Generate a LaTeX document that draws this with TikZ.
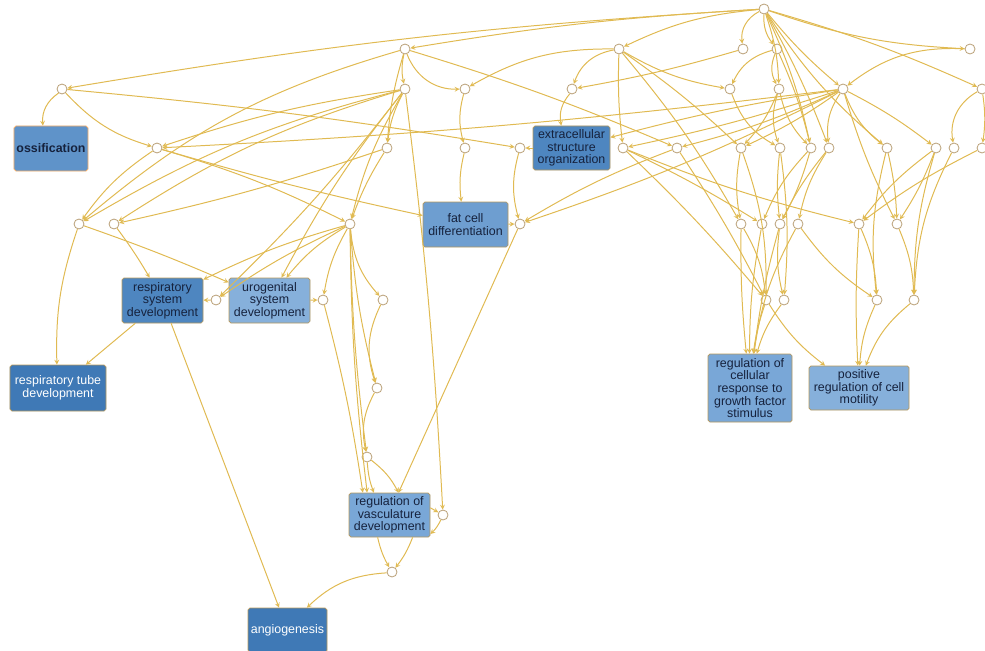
\documentclass[tikz,border=0pt]{standalone}
\usepackage{fontspec}
\setmainfont{Liberation Sans}
\usetikzlibrary{positioning}
\definecolor{GOEdge}{HTML}{E0BA52}
\definecolor{GORing}{HTML}{BBA27A}
\definecolor{GOFrame}{HTML}{B5985C}
\definecolor{GOInk}{HTML}{16223D}
\definecolor{GODeep}{HTML}{3F79B6}
\definecolor{GOMid}{HTML}{4E86C0}
\definecolor{GOOss}{HTML}{5F93C9}
\definecolor{GOSoft}{HTML}{6E9ED0}
\definecolor{GOLight}{HTML}{79A7D7}
\definecolor{GOPale}{HTML}{86B0DB}
\begin{document}
\begin{tikzpicture}[>=stealth,x=0.3mm,y=-0.3mm]
  \tikzstyle{hub}=[circle,draw=GORing,fill=white,line width=0.7pt,inner sep=0pt,minimum size=3mm]
  \tikzstyle{term}=[draw=GOFrame,line width=0.6pt,rounded corners=1.5pt,align=center,
    inner sep=1pt,text=GOInk,font=\fontsize{10.6}{10.8}\selectfont]
  \tikzstyle{link}=[->,draw=GOEdge,line width=0.85pt]
  \useasboundingbox (0,0) rectangle (985,651);
  % term boxes
  \node[term,fill=GOOss,draw=orange!60,minimum width=2.22cm,minimum height=1.35cm,font=\fontsize{10.6}{10.8}\selectfont\bfseries] (oss) at (51,148.5) {ossification};
  \node[term,fill=GOMid,minimum width=2.43cm,minimum height=1.35cm] (rsd) at (162.5,300.5) {respiratory\\system\\development};
  \node[term,fill=GOPale,minimum width=2.43cm,minimum height=1.35cm] (usd) at (269.5,300.5) {urogenital\\system\\development};
  \node[term,fill=GODeep,text=white,minimum width=2.88cm,minimum height=1.38cm] (rtd) at (58,388) {respiratory tube\\development};
  \node[term,fill=GOSoft,minimum width=2.55cm,minimum height=1.35cm] (fcd) at (465.5,224.5) {fat cell\\differentiation};
  \node[term,fill=GOMid,minimum width=2.31cm,minimum height=1.32cm] (eso) at (571.5,148) {extracellular\\structure\\organization};
  \node[term,fill=GOLight,minimum width=2.43cm,minimum height=1.32cm] (rvd) at (389.5,515) {regulation of\\vasculature\\development};
  \node[term,fill=GODeep,text=white,minimum width=2.37cm,minimum height=1.32cm] (ang) at (287.5,630) {angiogenesis};
  \node[term,fill=GOLight,minimum width=2.52cm,minimum height=2.04cm] (rcr) at (750,388) {regulation of\\cellular\\response to\\growth factor\\stimulus};
  \node[term,fill=GOPale,minimum width=3.0cm,minimum height=1.32cm] (prm) at (859,388) {positive\\regulation of cell\\motility};
  % hub circles
  \node[hub] (r0) at (764,9) {};
  \node[hub] (b1) at (405,49) {};
  \node[hub] (b2) at (619,49) {};
  \node[hub] (b3) at (743,49) {};
  \node[hub] (b4) at (777,49) {};
  \node[hub] (b5) at (970,49) {};
  \node[hub] (c1) at (62,89) {};
  \node[hub] (c2) at (405,89) {};
  \node[hub] (c3) at (465,89) {};
  \node[hub] (c4) at (572,89) {};
  \node[hub] (c5) at (730,89) {};
  \node[hub] (c6) at (779,89) {};
  \node[hub] (c7) at (843,89) {};
  \node[hub] (c8) at (982,89) {};
  \node[hub] (d1) at (157,148) {};
  \node[hub] (d2) at (387,148) {};
  \node[hub] (d3) at (465,148) {};
  \node[hub] (d4) at (520,148) {};
  \node[hub] (d5) at (623,148) {};
  \node[hub] (d6) at (677,148) {};
  \node[hub] (d7) at (741,148) {};
  \node[hub] (d8) at (780,148) {};
  \node[hub] (d9) at (811,148) {};
  \node[hub] (d10) at (829,148) {};
  \node[hub] (d11) at (887,148) {};
  \node[hub] (d12) at (936,148) {};
  \node[hub] (d13) at (954,148) {};
  \node[hub] (d14) at (982,148) {};
  \node[hub] (e1) at (79,224) {};
  \node[hub] (e2) at (114,224) {};
  \node[hub] (e3) at (350,224) {};
  \node[hub] (e4) at (520,224) {};
  \node[hub] (e5) at (741,224) {};
  \node[hub] (e6) at (762,224) {};
  \node[hub] (e7) at (780,224) {};
  \node[hub] (e8) at (798,224) {};
  \node[hub] (e9) at (859,224) {};
  \node[hub] (e10) at (897,224) {};
  \node[hub] (f1) at (216,300) {};
  \node[hub] (f2) at (323,300) {};
  \node[hub] (f3) at (383,300) {};
  \node[hub] (f4) at (766,300) {};
  \node[hub] (f5) at (784,300) {};
  \node[hub] (f6) at (877,300) {};
  \node[hub] (f7) at (914,300) {};
  \node[hub] (g1) at (377,388) {};
  \node[hub] (g2) at (367,457) {};
  \node[hub] (g3) at (443,515) {};
  \node[hub] (g4) at (392,572) {};
  % from the root
  \draw[link] (r0) to[bend right=3] (c1);
  \draw[link] (r0) to[bend right=3] (b1);
  \draw[link] (r0) to[bend right=10] (b2);
  \draw[link] (r0) to[bend right=35] (b3);
  \draw[link] (r0) to[bend right=20] (b4);
  \draw[link] (r0) to[bend left=8] (c6);
  \draw[link] (r0) to[bend right=5] (c7);
  \draw[link] (r0) to[bend left=6] (d9);
  \draw[link] (r0) to[bend left=4] (d10);
  \draw[link] (r0) to[bend right=8] (d11);
  \draw[link] (r0) to[bend right=8] (b5);
  \draw[link] (r0) to[bend left=4] (c8);
  % upper rows
  \draw[link] (b1) to[bend right=12] (c2);
  \draw[link] (b1) to[bend right=35] (c3);
  \draw[link] (b1) to[bend right=6] (d2);
  \draw[link] (b1) to[bend right=12] (e1);
  \draw[link] (b1) to[bend left=3] (d6);
  \draw[link] (b2) to[bend right=30] (c4);
  \draw[link] (b2) to[bend right=15] (c3);
  \draw[link] (b2) to[bend right=4] (d5);
  \draw[link] (b2) to[bend left=4] (d7);
  \draw[link] (b2) to[bend right=10] (c5);
  \draw[link] (b2) to[bend left=5] (e5);
  \draw[link] (b3) to[bend left=3] (c4);
  \draw[link] (b4) to[bend right=25] (c5);
  \draw[link] (b4) to[bend right=25] (c6);
  \draw[link] (b4) to[bend left=5] (d9);
  \draw[link] (b5) to[bend right=20] (c7);
  % left part
  \draw[link] (c1) to[bend right=30] (oss);
  \draw[link] (c1) to[bend right=15] (d1);
  \draw[link] (c1) to[bend left=2] (d4);
  \draw[link] (c2) to[bend right=5] (d1);
  \draw[link] (c2) to[bend right=8] (e1);
  \draw[link] (c2) to[bend right=8] (e2);
  \draw[link] (c2) to[bend left=4] (f1);
  \draw[link] (c2) to[bend right=5] (usd);
  \draw[link] (c2) to[bend right=8] (e3);
  \draw[link] (c2) to[bend right=10] (d2);
  \draw[link] (c2) to[bend left=2] (g3);
  \draw[link] (c3) to[bend right=15] (d3);
  \draw[link] (d3) to[bend right=10] (fcd);
  \draw[link] (d1) to[bend right=10] (e1);
  \draw[link] (d1) to[bend right=2] (fcd);
  \draw[link] (d1) to[bend left=5] (e3);
  \draw[link] (d2) to[bend left=3] (e2);
  \draw[link] (d2) to[bend right=6] (e3);
  \draw[link] (e1) to[bend right=10] (rtd);
  \draw[link] (e1) to[bend left=2] (usd);
  \draw[link] (e2) to[bend left=3] (rsd);
  \draw[link] (rsd) -- (rtd);
  \draw[link] (rsd) -- (ang);
  \draw[link] (f1) -- (rsd);
  \draw[link] (usd) -- (f2);
  \draw[link] (e3) to[bend right=5] (f1);
  \draw[link] (e3) to[bend right=5] (rsd);
  \draw[link] (e3) to[bend right=10] (usd);
  \draw[link] (e3) to[bend right=10] (f2);
  \draw[link] (e3) to[bend right=18] (f3);
  \draw[link] (e3) to[bend right=5] (g1);
  \draw[link] (e3) to[bend right=3] (g2);
  \draw[link] (e3) to[bend right=3] (rvd.135);
  \draw[link] (f3) to[bend right=22] (g1);
  \draw[link] (g1) to[bend right=20] (g2);
  \draw[link] (f2) to[bend left=3] (rvd.140);
  \draw[link] (g2) to[bend right=8] (rvd.125);
  \draw[link] (g2) to[bend left=12] (rvd.68);
  \draw[link] (rvd.10) -- (g3);
  \draw[link] (g3) to[bend left=10] (rvd.-25);
  \draw[link] (rvd.-118) to[bend right=8] (g4);
  \draw[link] (rvd.-44) to[bend left=8] (g4);
  \draw[link] (g4) to[bend right=20] (ang);
  % middle part
  \draw[link] (c4) to[bend right=25] (eso);
  \draw[link] (eso) -- (d4);
  \draw[link] (d4) to[bend right=15] (e4);
  \draw[link] (fcd) -- (e4);
  \draw[link] (e4) -- (rvd.68);
  \draw[link] (c7) to[bend left=4] (e4);
  % right part
  \draw[link] (c5) to[bend right=20] (d8);
  \draw[link] (c6) to[bend left=10] (d7);
  \draw[link] (c6) to[bend right=18] (d8);
  \draw[link] (c6) to[bend right=15] (d9);
  \draw[link] (c7) to[bend left=2] (d1);
  \draw[link] (c7) to[bend right=3] (eso);
  \draw[link] (c7) to[bend left=3] (d5);
  \draw[link] (c7) to[bend left=5] (d6);
  \draw[link] (c7) to[bend left=5] (d7);
  \draw[link] (c7) to[bend right=20] (d10);
  \draw[link] (c7) to[bend right=15] (d11);
  \draw[link] (c7) to[bend left=5] (d12);
  \draw[link] (c7) to[bend right=5] (e10);
  \draw[link] (c8) to[bend right=35] (d13);
  \draw[link] (c8) to[bend left=8] (d14);
  \draw[link] (d5) to[bend left=3] (f4);
  \draw[link] (d5) to[bend right=4] (e9);
  \draw[link] (d5) to[bend left=3] (e6);
  \draw[link] (d6) to[bend left=3] (f4);
  \draw[link] (d6) to[bend right=5] (e4);
  \draw[link] (d7) to[bend right=10] (e5);
  \draw[link] (d7) to[bend left=10] (f4);
  \draw[link] (d8) to[bend right=6] (e7);
  \draw[link] (d8) to[bend left=6] (f5);
  \draw[link] (d9) to[bend right=10] (e6);
  \draw[link] (d9) to[bend left=6] (e7);
  \draw[link] (d10) to[bend right=10] (e8);
  \draw[link] (d10) to[bend right=6] (e7);
  \draw[link] (d11) to[bend left=5] (e10);
  \draw[link] (d11) to[bend right=10] (f6);
  \draw[link] (d12) to[bend right=8] (e9);
  \draw[link] (d12) to[bend left=6] (e10);
  \draw[link] (d12) to[bend right=8] (f7);
  \draw[link] (d13) to[bend right=12] (f7);
  \draw[link] (d14) to[bend right=5] (e9);
  \draw[link] (e5) to[bend right=3] (rcr);
  \draw[link] (e5) to[bend left=12] (f4);
  \draw[link] (e6) to[bend right=5] (rcr);
  \draw[link] (e7) to[bend right=10] (f5);
  \draw[link] (e7) to[bend right=4] (rcr);
  \draw[link] (e8) to[bend right=10] (rcr);
  \draw[link] (e8) to[bend right=10] (f6);
  \draw[link] (f4) to[bend right=5] (rcr);
  \draw[link] (f4) to[bend right=10] (prm);
  \draw[link] (f5) to[bend right=10] (rcr);
  \draw[link] (e9) to[bend right=3] (prm);
  \draw[link] (e9) to[bend left=10] (f6);
  \draw[link] (f6) to[bend right=10] (prm);
  \draw[link] (e10) to[bend left=10] (f7);
  \draw[link] (f7) to[bend right=15] (prm);
\end{tikzpicture}
\end{document}
